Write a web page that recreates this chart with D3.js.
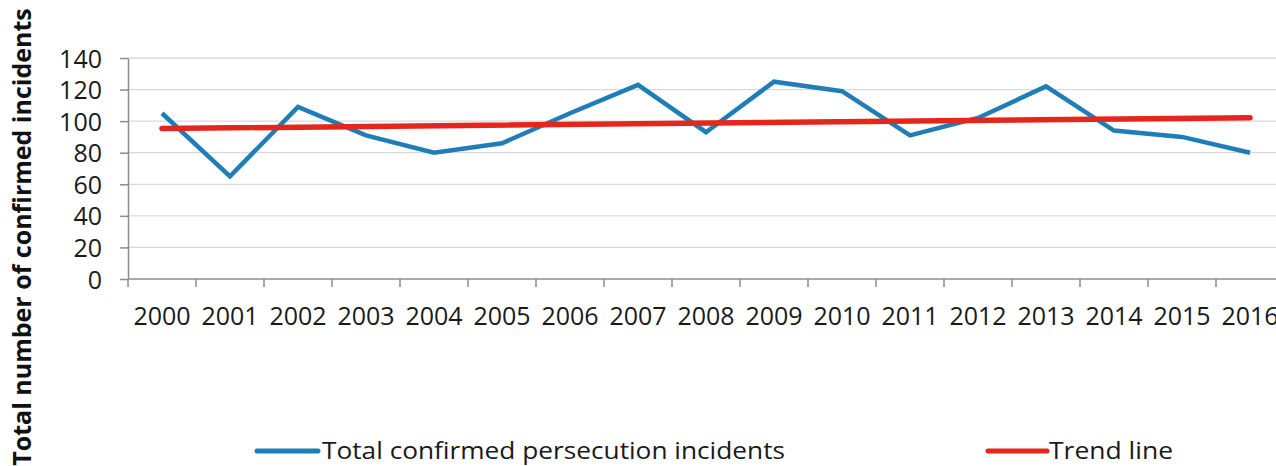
<!DOCTYPE html>
<html>
<head>
<meta charset="utf-8">
<script src="https://cdn.jsdelivr.net/npm/d3@7"></script>
<style>
  body { margin: 0; background: #fff; }
  svg { display: block; }
</style>
</head>
<body>
<div id="chart"></div>
<script>
var years = ["2000","2001","2002","2003","2004","2005","2006","2007","2008","2009","2010","2011","2012","2013","2014","2015","2016"]
var incidents = [105, 65, 109, 91, 80, 86, 105, 123, 93, 125, 119, 91, 102, 122, 94, 90, 80]
var trendYears = ["2000", "2016"]
var trendValues = [95.3, 102.2]
var yTicks = [0, 20, 40, 60, 80, 100, 120, 140]

var width = 1276, height = 466
var plotLeft = 128, plotTop = 58, plotBottom = 279
var band = 68

var svg = d3.select("#chart")
    .append("svg")
    .attr("width", width)
    .attr("height", height)

var x = d3.scaleBand()
    .domain(years)
    .range([plotLeft, plotLeft + band * years.length])
    .padding(0)

var y = d3.scaleLinear()
    .domain([0, 140])
    .range([plotBottom, plotTop])

// gridlines
svg.selectAll(".grid")
    .data(yTicks.filter(function(d){ return d > 0 }))
    .enter()
        .append("line")
        .attr("class", "grid")
        .attr("x1", plotLeft)
        .attr("x2", width)
        .attr("y1", function(d){ return y(d) })
        .attr("y2", function(d){ return y(d) })
        .attr("stroke", "#d9d9d9")
        .attr("stroke-width", 1.3)

// y axis
var yAxis = svg.append("g")
    .attr("transform", "translate(" + plotLeft + ",0)")
    .call(d3.axisLeft(y).tickValues(yTicks).tickSize(8).tickPadding(18).tickSizeOuter(0))
yAxis.select(".domain").attr("stroke", "#8c8c8c").attr("stroke-width", 1.5)
yAxis.selectAll(".tick line").attr("stroke", "#8c8c8c").attr("stroke-width", 1.5)
yAxis.selectAll("text")
    .attr("font-family", "Open Sans")
    .attr("font-size", 25)
    .attr("fill", "#1a1a1a")
    .attr("dy", "0.36em")

// x axis
var xAxis = svg.append("g")
    .attr("transform", "translate(0," + plotBottom + ")")
    .call(d3.axisBottom(x).tickSize(0).tickPadding(28).tickSizeOuter(0))
xAxis.select(".domain").remove()
xAxis.selectAll("text")
    .attr("font-family", "Open Sans")
    .attr("font-size", 25)
    .attr("fill", "#1a1a1a")

svg.append("line")
    .attr("x1", plotLeft).attr("x2", width)
    .attr("y1", plotBottom).attr("y2", plotBottom)
    .attr("stroke", "#8c8c8c").attr("stroke-width", 1.5)

var edges = years.map(function(d){ return x(d) }).concat([x(years[years.length - 1]) + x.bandwidth()])
svg.selectAll(".xtick")
    .data(edges)
    .enter()
        .append("line")
        .attr("class", "xtick")
        .attr("x1", function(d){ return d })
        .attr("x2", function(d){ return d })
        .attr("y1", plotBottom)
        .attr("y2", plotBottom + 8)
        .attr("stroke", "#8c8c8c")
        .attr("stroke-width", 1.5)

// series
var cx = function(d){ return x(d) + x.bandwidth() / 2 }

var line = d3.line()
    .x(function(d){ return cx(d[0]) })
    .y(function(d){ return y(d[1]) })

svg.append("path")
    .datum(years.map(function(d, i){ return [d, incidents[i]] }))
    .attr("d", line)
    .attr("fill", "none")
    .attr("stroke", "#1f7db8")
    .attr("stroke-width", 4.5)
    .attr("stroke-linejoin", "miter")

svg.append("path")
    .datum(trendYears.map(function(d, i){ return [d, trendValues[i]] }))
    .attr("d", line)
    .attr("fill", "none")
    .attr("stroke", "#e5261c")
    .attr("stroke-width", 5.5)
    .attr("stroke-linecap", "round")

// y title
svg.append("text")
    .attr("transform", "translate(31,237) rotate(-90)")
    .attr("text-anchor", "middle")
    .attr("font-family", "Open Sans")
    .attr("font-weight", "bold")
    .attr("font-size", 25)
    .attr("fill", "#111")
    .text("Total number of confirmed incidents")

// legend
var legend = [
    {label: "Total confirmed persecution incidents", color: "#1f7db8", x1: 257, x2: 318, tx: 322, tw: 463},
    {label: "Trend line", color: "#e5261c", x1: 988, x2: 1047, tx: 1049, tw: 124}
]
var lg = svg.selectAll(".legend")
    .data(legend)
    .enter()
        .append("g")
        .attr("class", "legend")
lg.append("line")
    .attr("x1", function(d){ return d.x1 })
    .attr("x2", function(d){ return d.x2 })
    .attr("y1", 451)
    .attr("y2", 451)
    .attr("stroke", function(d){ return d.color })
    .attr("stroke-width", 5)
    .attr("stroke-linecap", "round")
lg.append("text")
    .attr("x", function(d){ return d.tx })
    .attr("y", 459)
    .attr("font-family", "Open Sans")
    .attr("font-size", 24)
    .attr("fill", "#1a1a1a")
    .attr("textLength", function(d){ return d.tw })
    .attr("lengthAdjust", "spacingAndGlyphs")
    .text(function(d){ return d.label })
</script>
</body>
</html>
